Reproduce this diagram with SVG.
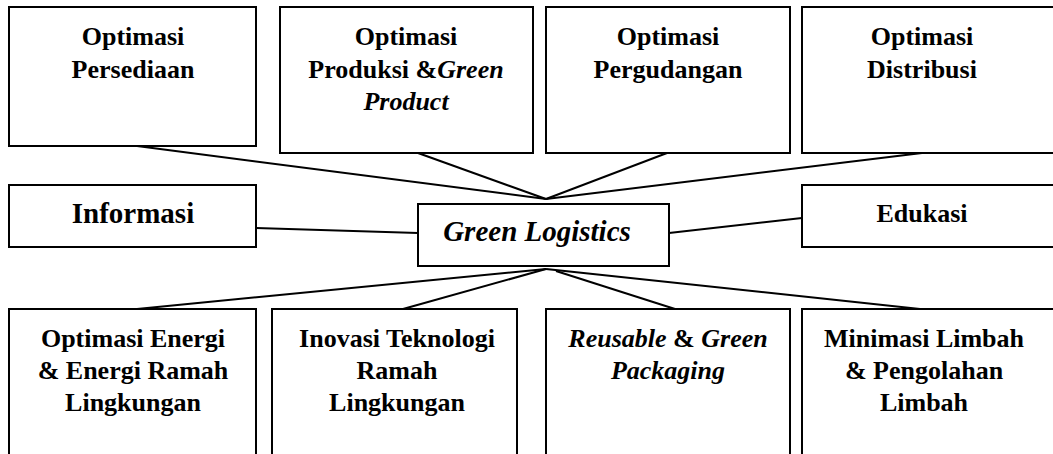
<svg xmlns="http://www.w3.org/2000/svg" width="1053" height="454" viewBox="0 0 1053 454">
<style>
.box{fill:#fff;stroke:#000;stroke-width:2}
text{font-weight:bold;font-size:26px;text-anchor:middle;fill:#000}
.big{font-size:29px}
.i{font-style:italic}
.c line{stroke:#000;stroke-width:2}
</style>
<rect width="1053" height="454" fill="#fff"/>
<g class="c" id="connectors">
<line x1="137" y1="146" x2="546" y2="199"/>
<line x1="418" y1="153" x2="546" y2="199"/>
<line x1="667" y1="153" x2="546" y2="199"/>
<line x1="922" y1="153" x2="546" y2="199"/>
<line x1="256" y1="228" x2="418" y2="233"/>
<line x1="669" y1="233" x2="802" y2="218"/>
<line x1="546" y1="269" x2="137" y2="309"/>
<line x1="546" y1="269" x2="403" y2="309"/>
<line x1="556" y1="271" x2="675" y2="309"/>
<line x1="546" y1="269" x2="920" y2="309"/>
</g>
<g id="n1"><rect class="box" x="9" y="7" width="247" height="139"/>
<text font-family="Liberation Serif" x="133" y="45">Optimasi</text><text font-family="Liberation Serif" x="133" y="78">Persediaan</text></g>
<g id="n2"><rect class="box" x="280" y="7" width="253" height="146"/>
<text font-family="Liberation Serif" x="406" y="45">Optimasi</text><text font-family="Liberation Serif" x="406" y="78">Produksi &amp;<tspan class="i">Green</tspan></text><text font-family="Liberation Serif" class="i" x="406" y="110">Product</text></g>
<g id="n3"><rect class="box" x="546" y="7" width="244" height="146"/>
<text font-family="Liberation Serif" x="668" y="45">Optimasi</text><text font-family="Liberation Serif" x="668" y="78">Pergudangan</text></g>
<g id="n4"><rect class="box" x="802" y="7" width="260" height="146"/>
<text font-family="Liberation Serif" x="922" y="45">Optimasi</text><text font-family="Liberation Serif" x="922" y="78">Distribusi</text></g>
<g id="n5"><rect class="box" x="9" y="185" width="247" height="62"/>
<text font-family="Liberation Serif" class="big" x="133" y="223">Informasi</text></g>
<g id="n6"><rect class="box" x="418" y="204" width="251" height="62"/>
<text font-family="Liberation Serif" class="big i" x="537" y="241">Green Logistics</text></g>
<g id="n7"><rect class="box" x="802" y="185" width="260" height="62"/>
<text font-family="Liberation Serif" x="922" y="222">Edukasi</text></g>
<g id="n8"><rect class="box" x="9" y="309" width="247" height="160"/>
<text font-family="Liberation Serif" x="133" y="347">Optimasi Energi</text><text font-family="Liberation Serif" x="133" y="379">&amp; Energi Ramah</text><text font-family="Liberation Serif" x="133" y="411">Lingkungan</text></g>
<g id="n9"><rect class="box" x="272" y="309" width="245" height="160"/>
<text font-family="Liberation Serif" x="397" y="347">Inovasi Teknologi</text><text font-family="Liberation Serif" x="397" y="379">Ramah</text><text font-family="Liberation Serif" x="397" y="411">Lingkungan</text></g>
<g id="n10"><rect class="box" x="546" y="309" width="244" height="160"/>
<text font-family="Liberation Serif" x="668" y="347"><tspan class="i">Reusable</tspan> &amp; <tspan class="i">Green</tspan></text><text font-family="Liberation Serif" class="i" x="668" y="379">Packaging</text></g>
<g id="n11"><rect class="box" x="802" y="309" width="260" height="160"/>
<text font-family="Liberation Serif" x="924" y="347">Minimasi Limbah</text><text font-family="Liberation Serif" x="924" y="379">&amp; Pengolahan</text><text font-family="Liberation Serif" x="924" y="411">Limbah</text></g>
</svg>
